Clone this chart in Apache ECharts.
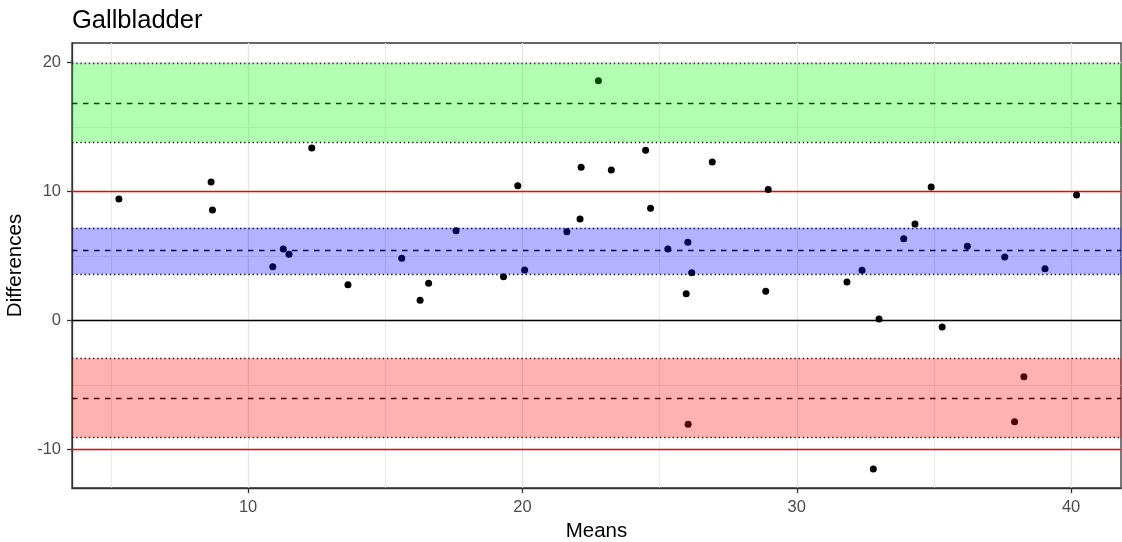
<!DOCTYPE html>
<html>
<head>
<meta charset="utf-8">
<script src="https://cdn.jsdelivr.net/npm/echarts@6/dist/echarts.min.js"></script>
<style>html,body{margin:0;padding:0;background:#fff}#c{width:1122px;height:542px}</style>
</head>
<body>
<div id="c"></div>
<script>
// ---- data ----
const means = [5.29, 8.65, 8.70, 10.90, 11.28, 11.49, 12.32, 13.64, 15.60, 16.27, 16.58, 17.58, 19.31, 19.83, 20.08, 21.62, 22.10, 22.14, 22.77, 23.24, 24.49, 24.67, 25.30, 25.97, 26.03, 26.04, 26.17, 26.92, 28.87, 28.96, 31.83, 32.38, 32.79, 33.00, 33.90, 34.31, 34.90, 35.30, 36.22, 37.58, 37.94, 38.28, 39.05, 40.20];
const diffs = [9.40, 10.72, 8.55, 4.16, 5.53, 5.12, 13.36, 2.76, 4.81, 1.55, 2.87, 6.95, 3.38, 10.43, 3.90, 6.87, 7.85, 11.86, 18.57, 11.65, 13.18, 8.68, 5.53, 2.06, 6.05, -8.06, 3.69, 12.27, 2.25, 10.14, 2.97, 3.88, -11.53, 0.10, 6.33, 7.46, 10.33, -0.52, 5.74, 4.91, -7.86, -4.37, 3.99, 9.71];
const meanDiff = 5.40, meanCI = [3.58, 7.17];
const upperLoA = 16.84, upperCI = [13.80, 19.95];
const lowerLoA = -6.02, lowerCI = [-9.10, -2.95];
const limits = [-10, 10];
const xTicks = [10, 20, 30, 40];
const yTicks = [-10, 0, 10, 20];
const xMinor = [5, 15, 25, 35];
const yMinor = [-5, 5, 15];
const xRange = [3.58, 41.82];
const yRange = [-13.0, 21.5];

const points = means.map((m, i) => [m, diffs[i]]);
const gridCol = '#e6e6e6';
const noSym = ['none', 'none'];
const gridLines = [].concat(
  xMinor.map(v => ({xAxis: v, lineStyle: {color: gridCol, width: 0.9, type: 'solid'}})),
  xTicks.map(v => ({xAxis: v, lineStyle: {color: gridCol, width: 1.3, type: 'solid'}})),
  yMinor.map(v => ({yAxis: v, lineStyle: {color: gridCol, width: 0.9, type: 'solid'}})),
  yTicks.map(v => ({yAxis: v, lineStyle: {color: gridCol, width: 1.3, type: 'solid'}}))
);
const dotted = {color: '#000', width: 1.3, type: [1.3, 2.9]};
const dashed = {color: '#000', width: 1.3, type: [5.5, 5.5]};
const refLines = [
  {yAxis: 0, lineStyle: {color: '#000', width: 1.3, type: 'solid'}},
  {yAxis: limits[0], lineStyle: {color: '#ff0000', width: 1.3, type: 'solid'}},
  {yAxis: limits[1], lineStyle: {color: '#ff0000', width: 1.3, type: 'solid'}},
  {yAxis: meanDiff, lineStyle: dashed},
  {yAxis: upperLoA, lineStyle: dashed},
  {yAxis: lowerLoA, lineStyle: dashed},
  {yAxis: meanCI[0], lineStyle: dotted}, {yAxis: meanCI[1], lineStyle: dotted},
  {yAxis: upperCI[0], lineStyle: dotted}, {yAxis: upperCI[1], lineStyle: dotted},
  {yAxis: lowerCI[0], lineStyle: dotted}, {yAxis: lowerCI[1], lineStyle: dotted}
];
const bands = [
  [{yAxis: upperCI[0], itemStyle: {color: 'rgba(0,255,0,0.3)'}}, {yAxis: upperCI[1]}],
  [{yAxis: meanCI[0], itemStyle: {color: 'rgba(0,0,255,0.3)'}}, {yAxis: meanCI[1]}],
  [{yAxis: lowerCI[0], itemStyle: {color: 'rgba(255,0,0,0.3)'}}, {yAxis: lowerCI[1]}]
];

const chart = echarts.init(document.getElementById('c'), null, {renderer: 'canvas'});
const font = 'Liberation Sans, Arial, sans-serif';
chart.setOption({
  animation: false,
  backgroundColor: '#fff',
  title: {text: 'Gallbladder', left: 72, top: 8, padding: 0,
    textStyle: {fontSize: 25.5, fontWeight: 'normal', color: '#000', fontFamily: font}},
  grid: {left: 72, right: 1, top: 43, bottom: 54, show: true, borderColor: '#333', borderWidth: 1.3,
    backgroundColor: 'transparent', outerBoundsMode: 'none'},
  xAxis: {type: 'value', min: xRange[0], max: xRange[1],
    name: 'Means', nameLocation: 'middle', nameGap: 30,
    nameTextStyle: {fontSize: 20.5, color: '#000', fontFamily: font},
    axisLine: {show: true, onZero: false, lineStyle: {color: '#333', width: 1.3}},
    axisTick: {show: true, length: 5, customValues: xTicks, lineStyle: {color: '#333', width: 1.3}},
    axisLabel: {customValues: xTicks, fontSize: 16.5, color: '#4d4d4d', margin: 11, fontFamily: font},
    splitLine: {show: false}},
  yAxis: {type: 'value', min: yRange[0], max: yRange[1],
    name: 'Differences', nameLocation: 'middle', nameGap: 40,
    nameTextStyle: {fontSize: 20.5, color: '#000', fontFamily: font},
    axisLine: {show: true, onZero: false, lineStyle: {color: '#333', width: 1.3}},
    axisTick: {show: true, length: 5, customValues: yTicks, lineStyle: {color: '#333', width: 1.3}},
    axisLabel: {customValues: yTicks, fontSize: 16.5, color: '#4d4d4d', margin: 11, fontFamily: font},
    splitLine: {show: false}},
  series: [
    {type: 'scatter', name: 'grid', data: [], z: 0, silent: true,
      markLine: {z: 0, silent: true, symbol: noSym, label: {show: false}, animation: false, data: gridLines}},
    {type: 'scatter', name: 'refs', data: [], z: 1, silent: true,
      markLine: {z: 1, silent: true, symbol: noSym, label: {show: false}, animation: false, data: refLines}},
    {type: 'scatter', name: 'points', data: points, z: 2, symbolSize: 7,
      itemStyle: {color: '#000', opacity: 1}},
    {type: 'scatter', name: 'bands', data: [], z: 3, silent: true,
      markArea: {z: 3, silent: true, label: {show: false}, animation: false, data: bands}}
  ]
});
</script>
</body>
</html>
